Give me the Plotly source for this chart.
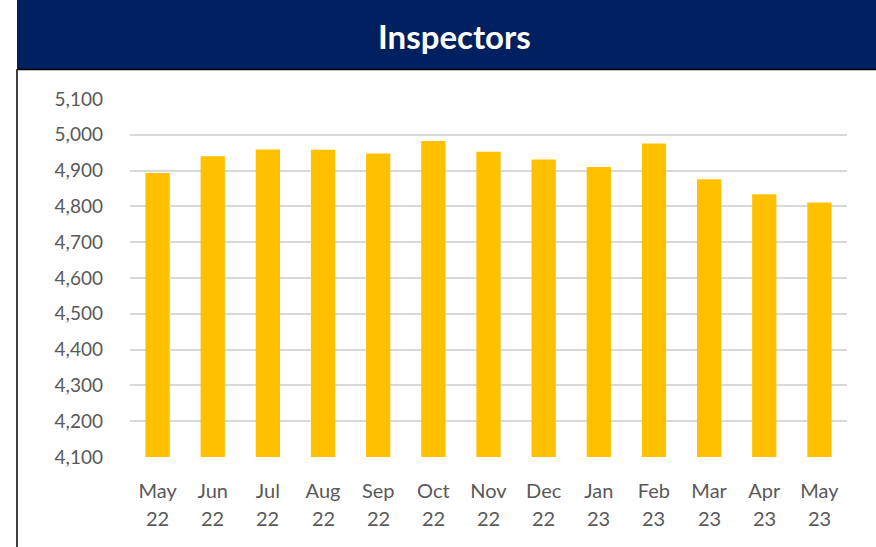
import plotly.graph_objects as go

months = ["May", "Jun", "Jul", "Aug", "Sep", "Oct", "Nov", "Dec", "Jan", "Feb", "Mar", "Apr", "May"]
years = ["22", "22", "22", "22", "22", "22", "22", "22", "23", "23", "23", "23", "23"]
inspectors = [4893, 4940, 4959, 4958, 4948, 4983, 4953, 4931, 4910, 4976, 4876, 4834, 4811]
y_ticks = [4100, 4200, 4300, 4400, 4500, 4600, 4700, 4800, 4900, 5000, 5100]
title = "Inspectors"

W, H = 876, 547
L, R, T, B = 130, 29, 99, 90
PW, PH = W - L - R, H - T - B


def px_x(x):
    return (x - L) / PW


def px_y(y):
    return (H - B - y) / PH


FONT = "Lato, 'Open Sans', sans-serif"
idx = list(range(len(months)))

fig = go.Figure()
fig.add_trace(go.Bar(
    x=idx, y=inspectors,
    marker=dict(color="#FFC000", line=dict(width=0)),
    width=0.44, hoverinfo="y",
))

fig.update_layout(
    width=W, height=H,
    margin=dict(l=L, r=R, t=T, b=B),
    paper_bgcolor="white", plot_bgcolor="white",
    showlegend=False,
    font=dict(family=FONT, color="#595959", size=19),
    xaxis=dict(
        range=[-0.5, len(months) - 0.5],
        tickmode="array", tickvals=idx, ticktext=months,
        showgrid=False, zeroline=False, showline=False, ticks="",
        ticklabelstandoff=20, tickfont=dict(size=20, color="#595959"),
    ),
    yaxis=dict(
        range=[4100, 5100],
        tickmode="array", tickvals=y_ticks,
        ticktext=[f"{v:,}" for v in y_ticks],
        showgrid=True, gridcolor="#D9D9D9", gridwidth=1.5,
        zeroline=False, showline=False, ticks="",
        ticklabelstandoff=26, tickfont=dict(size=19, color="#595959"),
    ),
    bargap=0.56,
)

shapes = [
    dict(type="rect", xref="paper", yref="paper",
         x0=px_x(17), x1=px_x(892), y0=px_y(69), y1=px_y(-5),
         fillcolor="#002060", line=dict(width=0), layer="above"),
    dict(type="line", xref="paper", yref="paper",
         x0=px_x(17), x1=px_x(880), y0=px_y(69.5), y1=px_y(69.5),
         line=dict(color="black", width=1.5)),
    dict(type="line", xref="paper", yref="paper",
         x0=px_x(17), x1=px_x(17), y0=px_y(69), y1=px_y(560),
         line=dict(color="black", width=1.5)),
]
fig.update_layout(shapes=shapes)

annotations = [
    dict(text=f"<b>{title}</b>", xref="paper", yref="paper",
         x=px_x(454), y=px_y(36), xanchor="center", yanchor="middle",
         showarrow=False, font=dict(family=FONT, size=33, color="white")),
]
for i, yr in zip(idx, years):
    annotations.append(dict(
        text=yr, xref="x", yref="paper", x=i, y=px_y(517.5),
        xanchor="center", yanchor="middle", showarrow=False,
        font=dict(family=FONT, size=20, color="#595959"),
    ))
fig.update_layout(annotations=annotations)

fig.write_html(
    "out.html",
    config={"displayModeBar": False},
    post_script="document.body.style.margin='0';document.body.style.padding='0';",
)
